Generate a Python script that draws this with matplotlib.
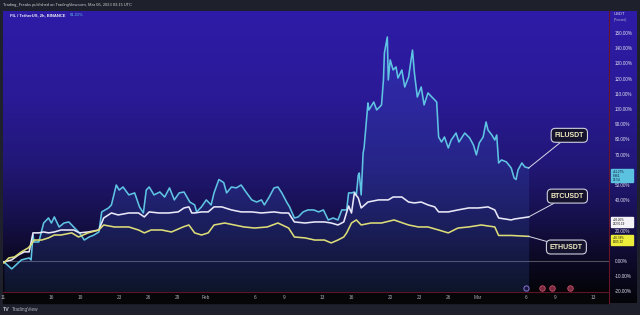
import numpy as np
import matplotlib.pyplot as plt
from matplotlib.colors import LinearSegmentedColormap
from matplotlib.patches import Rectangle
from matplotlib.lines import Line2D

plt.rcParams["font.family"] = ["Liberation Sans", "DejaVu Sans"]

# days counted from Jan 1 2023 (Jan 1 = 0), values in % change
fil_day = [10.1, 10.9, 11.9, 12.7, 12.9, 13.1, 13.2, 13.7, 14.2, 14.7, 15.0, 15.3, 15.8, 16.3,
           16.8, 17.1, 17.6, 17.9, 18.4, 18.9, 19.4, 19.9, 20.2, 20.9, 21.2, 21.7, 22.0, 22.4,
           23.0, 23.6, 24.1, 24.5, 24.8, 25.1, 25.6, 26.2, 26.7, 27.2, 27.7, 28.2, 28.7, 29.3,
           29.8, 30.0, 30.5, 31.0, 31.5, 31.8, 32.3, 32.8, 33.1, 33.6, 34.1, 34.6, 35.1, 35.7,
           36.2, 36.7, 37.0, 37.5, 38.0, 38.4, 38.8, 39.3, 39.6, 40.1, 40.5, 41.0, 41.5, 42.1,
           42.6, 43.1, 43.6, 44.1, 44.6, 45.0, 45.5, 45.7, 46.0, 46.3, 46.5, 46.7, 46.8, 47.0,
           47.2, 47.3, 47.7, 47.8, 48.3, 48.6, 48.9, 49.1, 49.3, 49.4, 49.7, 49.8, 50.0, 50.3,
           50.6, 50.8, 51.2, 51.5, 51.9, 52.3, 52.5, 52.8, 53.2, 53.5, 53.9, 54.3, 54.6, 54.8,
           55.0, 55.3, 55.6, 56.0, 56.3, 56.8, 57.1, 57.7, 58.2, 58.6, 58.9, 59.2, 59.6, 59.9,
           60.1, 60.5, 60.8, 61.0, 61.2, 61.5, 62.0, 62.5, 62.8, 63.0, 63.2, 63.6, 63.9, 64.3]
fil_pct = [-0.3, -4.9, 1.0, 2.3, 1.0, 17.4, 12.8, 12.8, 25.3, 28.6, 25.3, 29.3, 22.7, 25.3,
           26.0, 24.0, 20.7, 18.8, 14.1, 16.1, 17.4, 19.4, 32.6, 35.2, 37.2, 50.3, 47.0, 49.0,
           43.8, 45.1, 35.9, 31.9, 47.0, 49.0, 43.8, 45.7, 42.4, 48.4, 40.5, 45.1, 45.7, 39.1,
           37.2, 32.6, 35.9, 40.5, 37.2, 45.1, 53.9, 51.9, 45.1, 49.0, 48.4, 50.3, 45.7, 40.5,
           39.1, 40.5, 37.2, 42.4, 48.4, 49.0, 45.1, 39.1, 35.9, 28.6, 29.3, 32.6, 33.9, 33.9,
           32.6, 33.9, 27.3, 28.6, 27.3, 33.9, 33.9, 45.1, 45.1, 45.7, 43.8, 56.9, 58.2, 43.8,
           71.4, 74.7, 104.3, 99.7, 104.9, 99.7, 101.6, 103.0, 119.4, 137.2, 147.7, 119.4, 132.6, 126.0,
           128.0, 120.7, 126.0, 114.8, 121.4, 139.1, 124.0, 108.2, 114.8, 103.0, 110.9, 108.2, 106.3, 104.9,
           81.9, 78.6, 81.9, 74.7, 79.9, 84.5, 78.6, 84.5, 81.3, 76.6, 70.1, 78.0, 81.9, 91.8,
           86.5, 83.2, 79.9, 83.2, 64.8, 66.8, 65.5, 61.5, 54.9, 53.9, 60.2, 64.8, 62.2, 61.5]

btc_day = [10.1, 10.9, 11.6, 12.2, 12.7, 13.1, 13.7, 14.2, 14.7, 15.3, 16.0, 16.8, 17.3, 17.9,
           18.8, 19.9, 20.4, 21.2, 21.9, 23.0, 24.0, 24.6, 25.1, 26.1, 27.1, 28.1, 28.7, 29.2,
           29.5, 29.8, 30.5, 31.2, 31.8, 32.6, 33.6, 34.6, 35.7, 36.7, 38.0, 38.8, 39.5, 40.1,
           41.2, 42.2, 43.2, 43.9, 44.6, 45.2, 45.7, 46.0, 46.3, 46.7, 47.0, 47.7, 48.8, 49.8,
           50.3, 51.2, 51.9, 52.5, 53.2, 53.9, 54.6, 55.0, 56.0, 57.0, 58.1, 59.1, 60.1, 60.8,
           61.2, 62.5, 62.8, 64.3]
btc_pct = [-0.3, 1.0, 4.3, 6.3, 6.3, 18.8, 18.8, 19.4, 18.8, 19.4, 20.7, 20.7, 20.7, 18.8,
           19.4, 20.7, 28.6, 31.9, 30.6, 31.9, 31.9, 29.3, 32.6, 31.9, 31.9, 32.6, 35.2, 35.9,
           31.9, 31.9, 32.6, 32.6, 35.9, 35.9, 33.9, 32.6, 32.6, 31.9, 32.6, 31.9, 31.9, 26.0,
           25.3, 26.0, 26.0, 25.3, 24.0, 26.0, 36.5, 31.9, 45.1, 41.8, 35.2, 39.1, 40.5, 40.5,
           42.4, 42.4, 39.1, 38.5, 39.1, 37.2, 35.9, 32.6, 32.6, 33.9, 35.2, 35.2, 35.9, 33.9,
           28.6, 27.3, 27.9, 29.3]

eth_day = [10.1, 10.6, 11.2, 11.9, 12.6, 12.9, 13.2, 14.0, 14.7, 15.3, 16.0, 17.1, 17.8, 18.8,
           19.9, 20.4, 21.5, 23.0, 24.0, 24.6, 25.3, 26.4, 27.4, 28.6, 29.2, 29.8, 30.5, 31.2,
           31.8, 32.9, 33.9, 34.9, 36.0, 37.3, 38.4, 39.5, 40.1, 41.2, 42.2, 43.2, 43.9, 44.6,
           45.2, 45.5, 46.0, 46.5, 47.0, 48.0, 49.1, 50.4, 51.3, 51.9, 52.9, 53.9, 55.0, 56.0,
           57.0, 58.1, 59.4, 60.8, 61.2, 62.5, 64.3]
eth_pct = [-1.0, 2.3, 3.0, 6.3, 8.9, 10.9, 14.1, 14.1, 15.5, 17.4, 17.4, 18.8, 16.1, 18.8,
           20.7, 24.0, 22.7, 22.7, 20.7, 18.8, 20.7, 20.7, 19.4, 22.7, 24.0, 18.8, 17.4, 18.8,
           24.0, 25.3, 24.0, 22.7, 22.0, 22.7, 25.3, 22.0, 16.1, 15.5, 14.1, 14.1, 12.2, 14.1,
           16.1, 18.8, 25.3, 27.3, 24.0, 25.3, 25.3, 27.3, 25.3, 24.0, 22.7, 22.7, 20.7, 18.8,
           22.0, 22.7, 24.0, 22.7, 17.1, 17.1, 16.5]

tick_days = [10, 15, 18, 22, 25, 28, 31, 36, 39, 43, 46, 50, 53, 56, 59, 64, 67, 71]
tick_labels = ["11", "16", "19", "23", "26", "29", "Feb", "6", "9", "13", "16", "20", "23",
               "26", "Mar", "6", "9", "13"]
pct_ticks = list(range(-20, 151, 10))
event_days = [64.0, 65.7, 66.7, 68.6]

W, H = 640, 315
fig = plt.figure(figsize=(6.4, 3.15), dpi=100, facecolor="#1e212b")

def fx(px):
    return px / W

def fy(py):
    return 1 - py / H

bg = LinearSegmentedColormap.from_list(
    "bg", [(0.0, "#2e1ca8"), (0.3, "#2a1a96"), (0.55, "#211776"), (0.72, "#17114f"),
           (0.86, "#0d0a2a"), (1.0, "#040408")])
grad = np.linspace(0, 1, 256).reshape(-1, 1)

# price axis panel (drawn first, underneath)
pax = fig.add_axes([fx(609), fy(303), fx(28), 292 / H])
pax.imshow(grad, cmap=bg, extent=[0, 1, 0, 1], aspect="auto")
pax.set_xlim(0, 1)
pax.set_ylim(0, 1)
pax.axis("off")

# time axis strip
fig.patches.append(Rectangle((fx(3), fy(303)), fx(606), 11 / H, transform=fig.transFigure,
                             color="#060609", zorder=-1))

# main plot area (px 3..609, 11..292)
ax = fig.add_axes([fx(3), fy(292), fx(606), 281 / H])
x0, x1 = 10.0, 72.6
y0, y1 = -20.1, 164.8
ax.set_xlim(x0, x1)
ax.set_ylim(y0, y1)
ax.imshow(grad, cmap=bg, extent=[x0, x1, y0, y1], aspect="auto", zorder=0)

ax.axhline(0, color="#50505e", lw=0.8, zorder=1)
ax.fill_between(fil_day, fil_pct, y0, color="#4272e0", alpha=0.16, lw=0, zorder=1)
ax.plot(fil_day, fil_pct, color="#5fc4e4", lw=1.15, zorder=3)
ax.plot(btc_day, btc_pct, color="#e8e8f8", lw=1.15, zorder=3)
ax.plot(eth_day, eth_pct, color="#dcdc78", lw=1.15, zorder=3)

# name labels with leader lines
labels = [("FILUSDT", fil_day[-1], fil_pct[-1], 68.5, 83.0),
          ("BTCUSDT", btc_day[-1], btc_pct[-1], 68.3, 43.0),
          ("ETHUSDT", eth_day[-1], eth_pct[-1], 68.2, 9.5)]
for name, xd, yd, xt, yt_ in labels:
    ax.annotate(name, xy=(xd, yd), xytext=(xt, yt_), fontsize=5, fontweight="bold",
                color="#f2edc2", ha="center", va="center", zorder=5,
                bbox=dict(boxstyle="round,pad=0.5,rounding_size=0.6", fc="#15122e",
                          ec="#cfcfe0", lw=0.8),
                arrowprops=dict(arrowstyle="-", color="#d8d8e8", lw=0.7,
                                shrinkA=0, shrinkB=0))

# event icons on the bottom edge
ax.scatter(event_days[:1], [-17.6], s=14, facecolor="#1a1440", edgecolor="#8a7ad8",
           lw=0.7, zorder=4, clip_on=False)
ax.scatter(event_days[1:], [-17.6] * 3, s=16, facecolor="#7a2a40", edgecolor="#c45068",
           lw=0.6, zorder=4, clip_on=False)

ax.set_xticks(tick_days)
ax.set_xticklabels(tick_labels)
ax.set_yticks([])
ax.tick_params(axis="x", length=0, pad=2.0, labelsize=3.4, labelcolor="#a8abb4")
for s in ["top", "left", "right"]:
    ax.spines[s].set_visible(False)
ax.spines["bottom"].set_color("#5e1424")
ax.spines["bottom"].set_linewidth(0.8)

# red crosshair vertical line
fig.lines.append(Line2D([fx(609), fx(609)], [fy(303), fy(11)], transform=fig.transFigure,
                        color="#6a1428", lw=0.8))

# last-value badges on the price scale: (centre %, height %, colours, text)
badges = [(fil_pct[-1] - 5.0, 8.6, "#5bc3df", "#0b1030", "+61.27%\n6.961\n03:54"),
          (btc_pct[-1] - 3.3, 6.6, "#f4f4f8", "#101010", "+28.26%\n22270.19"),
          (eth_pct[-1] - 2.4, 6.6, "#ecec3a", "#101010", "+16.78%\n1565.22")]

yt = ax.get_yaxis_transform()
for p in pct_ticks:
    if any(abs(p - b[0]) < b[1] / 2 + 1.2 for b in badges):
        continue
    ax.text(1.009, p, f"{p:.2f}%", transform=yt, fontsize=3.3,
            color="#dcdcec", ha="left", va="center", clip_on=False, zorder=2)

for yc, hh, fc, tc, txt in badges:
    ax.add_patch(Rectangle((1.004, yc - hh / 2), 0.036, hh, transform=yt,
                           color=fc, clip_on=False, zorder=6))
    ax.text(1.007, yc, txt, transform=yt, fontsize=2.2, color=tc,
            ha="left", va="center", linespacing=1.0, clip_on=False, zorder=7)

# header texts
fig.text(fx(3), fy(5), "Trading_Freaks published on TradingView.com, Mar 06, 2023 03:15 UTC",
         fontsize=2.9, color="#d0d0d4", va="center")
leg = fig.text(fx(10), fy(15), "FIL / TetherUS, 2h, BINANCE", fontsize=3.0, color="#e8e8f4",
               va="center", fontweight="bold")
renderer = fig.canvas.get_renderer()
lx = leg.get_window_extent(renderer).x1
fig.text(fx(lx + 4), fy(15), "61.21%", fontsize=3.0, color="#5fc4e4", va="center")
fig.text(fx(614), fy(14), "USDT", fontsize=3.0, color="#e0e0ec", va="center")
fig.text(fx(614), fy(20), "(Percent)", fontsize=2.3, color="#b8b8d0", va="center")

# footer
fig.text(fx(3), fy(309.5), "TV", fontsize=3.8, color="#c0c3cb", va="center", fontweight="bold")
fig.text(fx(12), fy(309.5), "TradingView", fontsize=3.4, color="#b0b3bb", va="center")

fig.savefig("out.png", dpi=100, facecolor=fig.get_facecolor())
